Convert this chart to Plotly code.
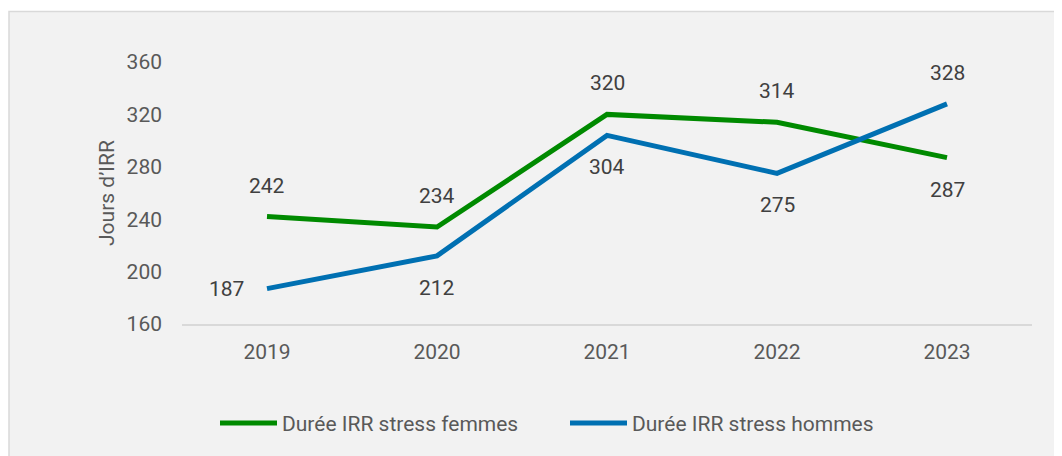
import plotly.graph_objects as go

years = ["2019", "2020", "2021", "2022", "2023"]
femmes = [242, 234, 320, 314, 287]
hommes = [187, 212, 304, 275, 328]
femmes_pos = ["above", "above", "above", "above", "below"]
hommes_pos = ["left", "below", "below", "below", "above"]
y_ticks = [160, 200, 240, 280, 320, 360]

GREEN = "#008A00"
BLUE = "#0070B2"
FONT = "Roboto"

OFF = 8  # page body margin
W, H = 1062 - OFF, 456 - OFF
L, T = 182 - OFF, 62 - OFF
PR, PB = 1032 - OFF, 326 - OFF
R, B = W - PR, H - PB
pw, ph = PR - L, PB - T

fig = go.Figure()
fig.add_trace(go.Scatter(x=years, y=femmes, mode="lines", name="Durée IRR stress femmes",
                         line=dict(color=GREEN, width=5)))
fig.add_trace(go.Scatter(x=years, y=hommes, mode="lines", name="Durée IRR stress hommes",
                         line=dict(color=BLUE, width=5)))

def add_labels(vals, poss):
    for i, (v, p) in enumerate(zip(vals, poss)):
        xs, ys = 0, 0
        if p == "above":
            ys = 31
        elif p == "below":
            ys = -32
        elif p == "left":
            xs = -41
        fig.add_annotation(x=i, y=v, text=str(v), showarrow=False, xshift=xs, yshift=ys,
                           font=dict(family=FONT, size=21, color="#404040"))

add_labels(femmes, femmes_pos)
add_labels(hommes, hommes_pos)

# chart-area background with border
fig.add_shape(type="rect", xref="paper", yref="paper", layer="below",
              x0=(9 - OFF - L) / pw, x1=(W + 20 - L) / pw,
              y0=(PB - (H + 20)) / ph, y1=(PB - (11 - OFF)) / ph,
              fillcolor="#F2F2F2", line=dict(color="#D9D9D9", width=1.5))

fig.update_layout(
    width=W, height=H,
    margin=dict(l=L, r=R, t=T, b=B),
    paper_bgcolor="white", plot_bgcolor="rgba(0,0,0,0)",
    font=dict(family=FONT, size=21, color="#595959"),
    showlegend=True,
    legend=dict(orientation="h", x=(215 - OFF - L) / pw, xanchor="left",
                y=(PB - (426 - OFF)) / ph, yanchor="middle",
                font=dict(family=FONT, size=21, color="#595959"),
                bgcolor="rgba(0,0,0,0)", itemwidth=57,
                entrywidth=278, entrywidthmode="pixels"),
    xaxis=dict(type="category", range=[-0.5, len(years) - 0.5], showgrid=False,
               showline=True, linecolor="#D9D9D9",
               linewidth=1.5, ticks="", ticklabelstandoff=8, zeroline=False,
               tickfont=dict(family=FONT, size=21, color="#595959")),
    yaxis=dict(range=[160, 360], tickvals=y_ticks, showgrid=False, showline=False,
               zeroline=False, ticks="", ticklabelstandoff=19,
               tickfont=dict(family=FONT, size=21, color="#595959"),
               title=dict(text="Jours d’IRR", standoff=6,
                          font=dict(family=FONT, size=21, color="#595959"))),
)

fig.write_html("out.html")
